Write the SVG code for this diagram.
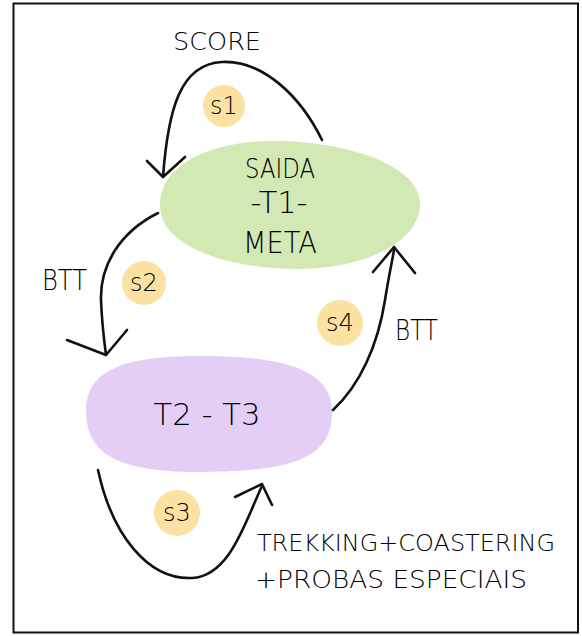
<svg xmlns="http://www.w3.org/2000/svg" width="582" height="636" viewBox="0 0 582 636">
<style>
.t{font-family:"DejaVu Sans","Liberation Sans",sans-serif;font-weight:200;fill:#000}
.c{fill:none;stroke:#111;stroke-width:2.6;stroke-linecap:round;stroke-linejoin:round}
.badge{fill:#fbe2a2}
.bt{font-family:"DejaVu Sans","Liberation Sans",sans-serif;font-weight:200;fill:#000;font-size:24px;text-anchor:middle}
</style>
<rect x="0" y="0" width="582" height="636" fill="#fff"/>
<rect x="13.5" y="3.5" width="564.5" height="629" fill="none" stroke="#111" stroke-width="2"/>

<g id="node-saida">
<path d="M160,207 C158,168 205,142 270,141 C340,140 419,163 420,203 C421,243 362,269 298,269 C228,269 162,247 160,207 Z" fill="#d2e9b3"/>
<text class="t" x="280" y="178" font-size="26" text-anchor="middle" textLength="70" lengthAdjust="spacingAndGlyphs">SAIDA</text>
<text class="t" x="279" y="213" font-size="30" text-anchor="middle" textLength="57" lengthAdjust="spacingAndGlyphs">-T1-</text>
<text class="t" x="280" y="253" font-size="30" text-anchor="middle" textLength="74" lengthAdjust="spacingAndGlyphs">META</text>
</g>

<g id="node-t2t3">
<path d="M86,410 C86,372 120,356 200,356 C290,356 332,372 332,412 C332,455 300,471 205,472 C110,473 86,450 86,410 Z" fill="#e5cef6"/>
<text class="t" x="207" y="425" font-size="30" text-anchor="middle" textLength="107" lengthAdjust="spacingAndGlyphs">T2 - T3</text>
</g>

<g id="connectors">
<path class="c" d="M322,140 C300,95 262,60 222,62 C180,64 168,110 163,177"/>
<path class="c" d="M147,161 L163,177 L185,157"/>
<path class="c" d="M158,213 C120,232 100,265 101,300 C102,325 104,340 106,355"/>
<path class="c" d="M67,340 L106,355 L127,330"/>
<path class="c" d="M98,470 C112,535 148,580 192,578 C230,576 245,522 262,486"/>
<path class="c" d="M235,497 L262,484 L272,505"/>
<path class="c" d="M333,410 C360,385 378,345 385,300 C389,275 392,262 394,250"/>
<path class="c" d="M373,272 L394,247 L415,273" stroke-width="4"/>
</g>

<g id="labels">
<text class="t" x="173" y="50" font-size="25" textLength="88" lengthAdjust="spacingAndGlyphs">SCORE</text>
<text class="t" x="42" y="290" font-size="29" textLength="45" lengthAdjust="spacingAndGlyphs">BTT</text>
<text class="t" x="395" y="340" font-size="28" textLength="43" lengthAdjust="spacingAndGlyphs">BTT</text>
<text class="t" x="257" y="551" font-size="23" textLength="298" lengthAdjust="spacingAndGlyphs">TREKKING+COASTERING</text>
<text class="t" x="255" y="588" font-size="24" textLength="272" lengthAdjust="spacingAndGlyphs">+PROBAS ESPECIAIS</text>
</g>

<g id="badge-s1"><circle class="badge" cx="224" cy="106" r="21"/><text class="bt" x="224" y="114">s1</text></g>
<g id="badge-s2"><circle class="badge" cx="144" cy="283" r="22"/><text class="bt" x="144" y="291">s2</text></g>
<g id="badge-s3"><circle class="badge" cx="177" cy="513" r="23"/><text class="bt" x="177" y="521">s3</text></g>
<g id="badge-s4"><circle class="badge" cx="340" cy="323" r="23"/><text class="bt" x="340" y="331">s4</text></g>
</svg>
